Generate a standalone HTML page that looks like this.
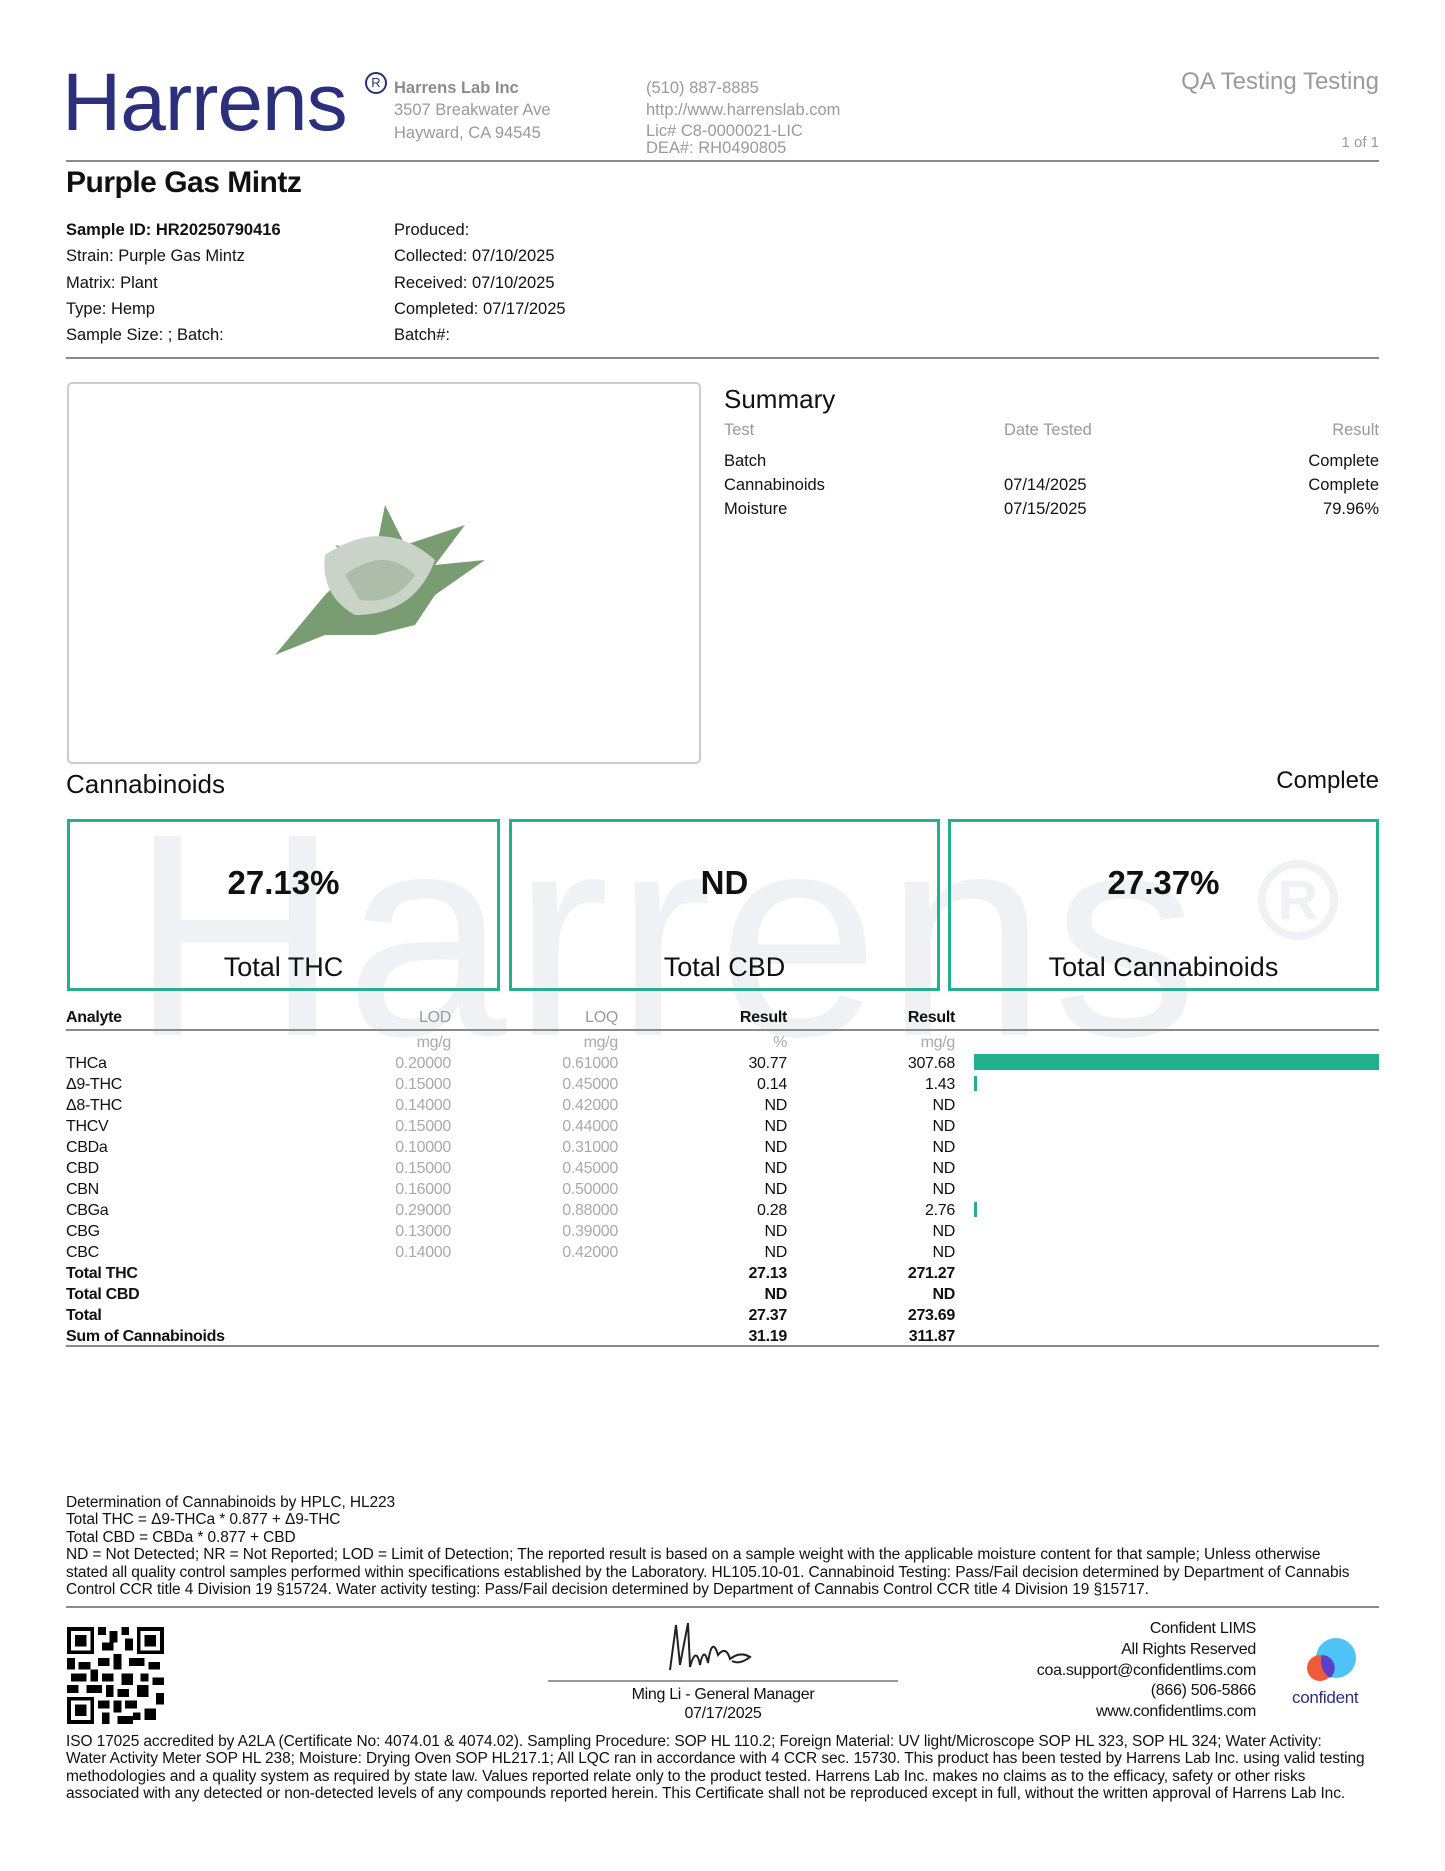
<!DOCTYPE html>
<html><head><meta charset="utf-8"><style>
*{margin:0;padding:0;box-sizing:border-box}
body{width:1445px;height:1871px;background:#fff;position:relative;overflow:hidden;font-family:"Liberation Sans",sans-serif;color:#111}
.a{position:absolute;white-space:nowrap}
.g{color:#9a9a9a}
.hr{position:absolute;left:66px;width:1313px;height:2px;background:#8a8a8a}
.r{text-align:right}
.box{position:absolute;top:819px;height:172px;border:3px solid #22b08f}
.box .v{position:absolute;left:0;right:0;top:42px;text-align:center;font-weight:bold;font-size:33px}
.box .l{position:absolute;left:0;right:0;top:130px;text-align:center;font-size:27px}
.t{font-size:16px;letter-spacing:-0.3px}
.ft{font-size:15.5px;letter-spacing:-0.1px;line-height:17.4px}
</style></head><body>
<div class="a" style="left:130px;top:790px;font-size:290px;color:#f0f1f5;letter-spacing:6px;line-height:1">Harrens</div>
<div class="a" style="left:1258px;top:860px;width:80px;height:80px;border:8px solid #f0f1f5;border-radius:50%;font-size:56px;color:#f0f1f5;text-align:center;line-height:64px;font-weight:bold">R</div>

<div class="a" style="left:62px;top:62px;font-size:82px;color:#2b2f7c;letter-spacing:-1px;line-height:1">Harrens</div>
<div class="a" style="left:365px;top:72px;width:22px;height:22px;border:2px solid #2b2f7c;border-radius:50%;font-size:13px;color:#2b2f7c;text-align:center;line-height:18px">R</div>
<div class="a g" style="left:394px;top:77px;font-size:16.5px;line-height:22.5px;font-weight:bold;color:#8c8c8c">Harrens Lab Inc</div>
<div class="a g" style="left:394px;top:99px;font-size:16.5px;line-height:22.5px">3507 Breakwater Ave<br>Hayward, CA 94545</div>
<div class="a g" style="left:646px;top:78px;font-size:16.5px;line-height:21.5px">(510) 887-8885<br>http://www.harrenslab.com<br>Lic# C8-0000021-LIC</div>
<div class="a g" style="left:646px;top:139px;font-size:16.5px">DEA#: RH0490805</div>
<div class="a g r" style="right:66px;top:68px;font-size:24px">QA Testing Testing</div>
<div class="a g r" style="right:66px;top:134px;font-size:15px">1 of 1</div>
<div class="hr" style="top:160px"></div>
<div class="a" style="left:66px;top:166px;font-size:30px;font-weight:bold;letter-spacing:-0.5px">Purple Gas Mintz</div>
<div class="a" style="left:66px;top:217px;font-size:16.5px;line-height:26.3px"><b>Sample ID: HR20250790416</b><br>Strain: Purple Gas Mintz<br>Matrix: Plant<br>Type: Hemp<br>Sample Size: ; Batch:</div>
<div class="a" style="left:394px;top:217px;font-size:16.5px;line-height:26.3px">Produced:<br>Collected: 07/10/2025<br>Received: 07/10/2025<br>Completed: 07/17/2025<br>Batch#:</div>
<div class="hr" style="top:357px"></div>

<div class="a" style="left:67px;top:382px;width:634px;height:382px;border:2px solid #ccc;border-radius:5px"></div>
<svg class="a" style="left:265px;top:485px" width="230" height="180" viewBox="0 0 230 180">
<path d="M10 170 L60 110 L90 80 L70 60 L110 70 L120 20 L140 60 L200 40 L170 80 L220 75 L170 110 L150 140 L110 150 L60 150 Z" fill="#7a9c73"/>
<path d="M60 70 Q120 30 170 75 Q150 130 90 130 Q55 110 60 70Z" fill="#c9d3c8"/>
<path d="M80 90 Q120 60 150 90 Q130 120 95 115Z" fill="#aebdaa"/>
</svg>
<div class="a" style="left:724px;top:384px;font-size:26px">Summary</div>
<div class="a g" style="left:724px;top:421px;font-size:16.5px">Test</div>
<div class="a g" style="left:1004px;top:421px;font-size:16.5px">Date Tested</div>
<div class="a g r" style="right:66px;top:421px;font-size:16.5px">Result</div>
<div class="a" style="left:724px;top:449px;font-size:16.5px;line-height:24px">Batch<br>Cannabinoids<br>Moisture</div>
<div class="a" style="left:1004px;top:473px;font-size:16.5px;line-height:24px">07/14/2025<br>07/15/2025</div>
<div class="a r" style="right:66px;top:449px;font-size:16.5px;line-height:24px">Complete<br>Complete<br>79.96%</div>

<div class="a" style="left:66px;top:769px;font-size:26px">Cannabinoids</div>
<div class="a r" style="right:66px;top:767px;font-size:24px">Complete</div>
<div class="box" style="left:67px;width:433px"><div class="v">27.13%</div><div class="l">Total THC</div></div>
<div class="box" style="left:509px;width:431px"><div class="v">ND</div><div class="l">Total CBD</div></div>
<div class="box" style="left:948px;width:431px"><div class="v">27.37%</div><div class="l">Total Cannabinoids</div></div>

<div class="a t" style="left:66px;top:1009px;font-weight:bold">Analyte</div>
<div class="a t g r" style="right:994px;top:1009px">LOD</div>
<div class="a t g r" style="right:827px;top:1009px">LOQ</div>
<div class="a t r" style="right:658px;top:1009px;font-weight:bold">Result</div>
<div class="a t r" style="right:490px;top:1009px;font-weight:bold">Result</div>
<div class="hr" style="top:1029px"></div>
<div class="a t" style="left:66px;top:1053px;line-height:21px">THCa<br>Δ9-THC<br>Δ8-THC<br>THCV<br>CBDa<br>CBD<br>CBN<br>CBGa<br>CBG<br>CBC<br><b>Total THC<br>Total CBD<br>Total<br>Sum of Cannabinoids</b></div>
<div class="a t g r" style="right:994px;top:1032px;line-height:21px;color:#aaa">mg/g<br>0.20000<br>0.15000<br>0.14000<br>0.15000<br>0.10000<br>0.15000<br>0.16000<br>0.29000<br>0.13000<br>0.14000</div>
<div class="a t g r" style="right:827px;top:1032px;line-height:21px;color:#aaa">mg/g<br>0.61000<br>0.45000<br>0.42000<br>0.44000<br>0.31000<br>0.45000<br>0.50000<br>0.88000<br>0.39000<br>0.42000</div>
<div class="a t r" style="right:658px;top:1032px;line-height:21px"><span style="color:#aaa">%</span><br>30.77<br>0.14<br>ND<br>ND<br>ND<br>ND<br>ND<br>0.28<br>ND<br>ND<br><b>27.13<br>ND<br>27.37<br>31.19</b></div>
<div class="a t r" style="right:490px;top:1032px;line-height:21px"><span style="color:#aaa">mg/g</span><br>307.68<br>1.43<br>ND<br>ND<br>ND<br>ND<br>ND<br>2.76<br>ND<br>ND<br><b>271.27<br>ND<br>273.69<br>311.87</b></div>
<div class="a" style="left:974px;top:1054px;width:405px;height:16px;background:#22b08f"></div>
<div class="a" style="left:974px;top:1076px;width:3px;height:15px;background:#22b08f"></div>
<div class="a" style="left:974px;top:1202px;width:3px;height:15px;background:#22b08f"></div>
<div class="hr" style="top:1345px"></div>

<div class="a ft" style="left:66px;top:1494px">Determination of Cannabinoids by HPLC, HL223<br>Total THC = Δ9-THCa * 0.877 + Δ9-THC<br>Total CBD = CBDa * 0.877 + CBD<br>ND = Not Detected; NR = Not Reported; LOD = Limit of Detection; The reported result is based on a sample weight with the applicable moisture content for that sample; Unless otherwise<br>stated all quality control samples performed within specifications established by the Laboratory. HL105.10-01. Cannabinoid Testing: Pass/Fail decision determined by Department of Cannabis<br>Control CCR title 4 Division 19 §15724. Water activity testing: Pass/Fail decision determined by Department of Cannabis Control CCR title 4 Division 19 §15717.</div>
<div class="hr" style="top:1606px"></div>

<svg class="a" style="left:67px;top:1627px" width="97" height="97" viewBox="0 0 25 25" shape-rendering="crispEdges">
<g fill="#000">
<path d="M0 0h7v7h-7zM18 0h7v7h-7zM0 18h7v7h-7z"/>
</g>
<g fill="#fff"><path d="M1 1h5v5h-5zM19 1h5v5h-5zM1 19h5v5h-5z"/></g>
<g fill="#000"><path d="M2 2h3v3h-3zM20 2h3v3h-3zM2 20h3v3h-3z"/>
<path d="M8 0h2v2h-2zM11 1h2v3h-2zM14 0h2v2h-2zM9 4h3v2h-3zM15 3h2v3h-2zM8 8h3v2h-3zM12 7h2v4h-2zM16 8h4v2h-4zM21 9h3v2h-3zM0 8h2v3h-2zM3 9h3v2h-3zM1 12h4v2h-4zM6 11h2v3h-2zM9 12h3v2h-3zM14 12h3v3h-3zM19 12h2v2h-2zM22 13h3v2h-3zM0 15h3v2h-3zM5 15h4v2h-4zM10 15h2v3h-2zM13 16h3v2h-3zM18 15h3v3h-3zM23 17h2v3h-2zM8 19h3v2h-3zM12 19h2v3h-2zM15 19h3v2h-3zM20 21h3v3h-3zM9 22h2v3h-2zM13 23h4v2h-4zM17 22h2v2h-2z"/></g>
</svg>
<svg class="a" style="left:660px;top:1615px" width="130" height="62" viewBox="0 0 130 62"><path d="M10 55 L16 10 L20 50 L28 8 L30 52 Q36 30 40 50 Q44 30 48 48 Q52 20 58 40 Q66 30 70 44 Q80 36 90 42 Q80 50 72 46" fill="none" stroke="#222" stroke-width="2"/></svg>
<div class="a" style="left:548px;top:1680px;width:350px;height:2px;background:#999"></div>
<div class="a" style="left:548px;top:1685px;width:350px;text-align:center;font-size:16px;line-height:19px;letter-spacing:-0.3px">Ming Li - General Manager<br>07/17/2025</div>
<div class="a r" style="right:189px;top:1619px;font-size:16px;line-height:20.8px;letter-spacing:-0.3px">Confident LIMS<br>All Rights Reserved<br>coa.support@confidentlims.com<br>(866) 506-5866<br>www.confidentlims.com</div>
<svg class="a" style="left:1300px;top:1638px" width="60" height="45"><circle cx="36" cy="20" r="20" fill="#4ec3f7"/><circle cx="20" cy="30" r="13" fill="#ee5a3c"/><path d="M22 17 A13 13 0 0 1 30 40 A20 20 0 0 1 22 17Z" fill="#5b3fc8"/></svg>
<div class="a" style="left:1292px;top:1688px;font-size:17px;color:#2b2f7c;letter-spacing:-0.3px">confident</div>
<div class="a ft" style="left:66px;top:1733px">ISO 17025 accredited by A2LA (Certificate No: 4074.01 &amp; 4074.02). Sampling Procedure: SOP HL 110.2; Foreign Material: UV light/Microscope SOP HL 323, SOP HL 324; Water Activity:<br>Water Activity Meter SOP HL 238; Moisture: Drying Oven SOP HL217.1; All LQC ran in accordance with 4 CCR sec. 15730. This product has been tested by Harrens Lab Inc. using valid testing<br>methodologies and a quality system as required by state law. Values reported relate only to the product tested. Harrens Lab Inc. makes no claims as to the efficacy, safety or other risks<br>associated with any detected or non-detected levels of any compounds reported herein. This Certificate shall not be reproduced except in full, without the written approval of Harrens Lab Inc.</div>
</body></html>
